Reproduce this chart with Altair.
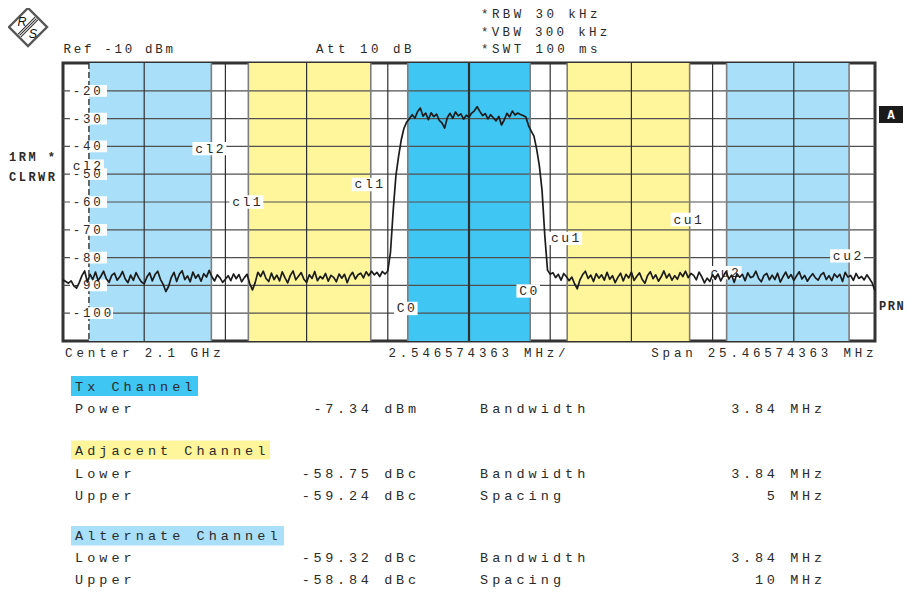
import math
import altair as alt
import pandas as pd

# ---------------- instrument settings ----------------
CENTER_GHZ = 2.1
SPAN_MHZ = 25.46574363
DIV_MHZ = 2.546574363
REF_DBM = -10
ATT_DB = 10
RBW_TXT = "30 kHz"
VBW_TXT = "300 kHz"
SWT_TXT = "100 ms"

# ---------------- channels ----------------
ch_names = ["cl2", "cl1", "C0", "cu1", "cu2"]
ch_offset_mhz = [-10, -5, 0, 5, 10]
ch_bw_mhz = [3.84, 3.84, 3.84, 3.84, 3.84]
ch_fill = ["#a9dff8", "#fff59b", "#40c6f2", "#fff59b", "#a9dff8"]
ch_label_left_db = [-47.1, -60.0, -98.3, -73.1, -85.4]
ch_label_right_db = [-40.8, -53.7, -92.0, -66.3, -79.4]

y_tick_db = [-20, -30, -40, -50, -60, -70, -80, -90, -100]

# ---------------- trace (301 sweep points, dBm) ----------------
trace_dbm = [
    # lower noise floor
    -88.0, -88.6, -89.2, -88.4, -90.2, -91.0, -89.0, -86.5, -84.8, -88.8,
    -86.0, -87.9, -85.2, -88.3, -86.7, -84.9, -87.6, -88.9, -86.4, -85.6,
    -88.1, -86.9, -85.0, -87.7, -89.0, -86.3, -88.2, -85.4, -87.3, -88.8,
    -89.4, -87.0, -85.5, -88.4, -86.1, -84.9, -87.8, -89.6, -92.2, -90.4,
    -87.2, -85.3, -88.6, -86.0, -84.7, -87.9, -86.6, -88.7, -85.2, -87.4,
    -86.1, -88.5, -85.8, -87.0, -84.6, -86.9, -88.4, -86.2, -87.3, -88.9,
    -87.8, -86.5, -88.3, -85.9, -87.6, -86.1, -88.7, -87.2, -86.0, -89.4,
    -91.6, -89.0, -85.3, -86.8, -84.9, -87.5, -88.6, -85.6, -87.9, -86.3,
    -88.4, -85.1, -87.2, -89.1, -86.4, -84.8, -88.0, -86.7, -85.4, -87.8,
    -88.9, -86.2, -87.5, -85.0, -88.3, -86.8, -87.6, -85.7, -88.5, -86.4,
    -87.1, -88.7, -85.9, -87.4, -86.0, -89.0, -86.6, -85.3, -87.7, -86.2,
    -85.6, -87.3, -85.1, -86.5, -84.9, -86.2, -85.3, -86.8, -85.0, -85.9,
    # rising edge
    -84.8, -78.0, -63.0, -50.5, -43.5, -37.5, -33.4, -31.2,
    # Tx channel
    -30.0, -28.6, -29.8, -27.5, -26.2, -29.1, -28.0, -30.4, -27.9, -29.3,
    -28.4, -30.6, -31.5, -33.4, -29.6, -28.1, -29.9, -27.6, -29.0, -28.3,
    -30.2, -28.8, -29.4, -28.0, -27.2, -25.7, -27.4, -28.9, -28.2, -30.1,
    -28.6, -29.7, -30.8, -29.2, -32.3, -30.5, -28.1, -29.4, -27.3, -28.7,
    -28.0, -28.5, -28.9, -29.4,
    # falling edge
    -32.5, -34.5, -36.3, -41.0, -47.0, -56.0, -72.0, -84.5, -86.0,
    # upper noise floor
    -85.4, -87.2, -86.0, -88.1, -85.7, -86.9, -88.3, -87.0, -89.4, -91.2,
    -88.0, -86.1, -84.9, -87.5, -86.3, -88.6, -85.8, -87.4, -86.2, -88.1,
    -85.3, -87.8, -86.5, -89.0, -87.1, -85.6, -88.4, -86.0, -87.3, -85.2,
    -88.2, -86.7, -85.5, -87.9, -89.2, -86.4, -85.1, -87.6, -86.2, -88.5,
    -86.9, -84.8, -87.3, -85.9, -88.1, -86.5, -87.8, -85.4, -86.8, -84.9,
    -87.2, -85.7, -86.4, -88.0, -85.2, -86.9, -89.1, -87.4, -88.6, -86.1,
    -87.8, -85.9, -88.4, -86.6, -85.0, -87.7, -86.3, -88.9, -85.8, -87.1,
    -86.0, -88.3, -85.5, -87.2, -86.8, -84.9, -87.5, -88.7, -86.4, -85.7,
    -88.0, -86.3, -87.9, -85.6, -88.8, -86.9, -85.2, -87.4, -86.1, -88.2,
    -86.6, -85.1, -87.7, -86.4, -88.5, -87.0, -85.8, -87.3, -88.1, -86.2,
    -85.4, -87.9, -86.5, -88.3, -85.9, -87.1, -86.0, -88.6, -85.3, -87.0,
    -86.4, -88.2, -85.7, -87.5, -86.8, -88.0, -86.2, -87.6, -89.2, -92.0,
]

# ---------------- results table ----------------
tx_power_dbm = -7.34
adj_lower_dbc = -58.75
adj_upper_dbc = -59.24
alt_lower_dbc = -59.32
alt_upper_dbc = -58.84
adj_spacing_mhz = 5
alt_spacing_mhz = 10

# ---------------- geometry ----------------
W, H = 812, 278
OX, OY = 63, 63          # page position of plot origin
XMIN, XMAX = -SPAN_MHZ / 2, SPAN_MHZ / 2
YMIN, YMAX = REF_DBM - 100, REF_DBM
xsc = alt.Scale(domain=[XMIN, XMAX], nice=False, zero=False)
ysc = alt.Scale(domain=[YMIN, YMAX], nice=False, zero=False)
FONT = "Liberation Mono"
INK = "#2a2a2a"


def mhz_at(px):
    return XMIN + px / W * SPAN_MHZ


def px_of(f):
    return (f - XMIN) / SPAN_MHZ * W


def Xq(field):
    return alt.X(field, type="quantitative", scale=xsc, axis=None)


def Yq(field):
    return alt.Y(field, type="quantitative", scale=ysc, axis=None)


# channel rectangles
chan = pd.DataFrame({
    "f0": [o - b / 2 for o, b in zip(ch_offset_mhz, ch_bw_mhz)],
    "f1": [o + b / 2 for o, b in zip(ch_offset_mhz, ch_bw_mhz)],
    "fill": ch_fill,
})
l_chan = alt.Chart(chan).mark_rect().encode(
    x=Xq("f0"), x2="f1", y=alt.value(0), y2=alt.value(H),
    color=alt.Color("fill:N", scale=None))

# grid
l_hgrid = alt.Chart(pd.DataFrame({"db": y_tick_db})).mark_rule(
    color="#505050", strokeWidth=1.2).encode(
    y=Yq("db"), x=alt.value(0), x2=alt.value(W))
vg = pd.DataFrame({"f": [XMIN + k * DIV_MHZ for k in range(1, 10)],
                   "w": [2.2 if k == 5 else 1.2 for k in range(1, 10)]})
l_vgrid = alt.Chart(vg).mark_rule(color="#303030").encode(
    x=Xq("f"), y=alt.value(0), y2=alt.value(H),
    strokeWidth=alt.StrokeWidth("w:Q", scale=None))

# channel edges
edges = []
for o, b in zip(ch_offset_mhz, ch_bw_mhz):
    edges += [o - b / 2, o + b / 2]
l_edges = alt.Chart(pd.DataFrame({"f": edges[1:]})).mark_rule(
    color="#7d7d7d", strokeWidth=1.6).encode(
    x=Xq("f"), y=alt.value(0), y2=alt.value(H))
l_edge0 = alt.Chart(pd.DataFrame({"f": edges[:1]})).mark_rule(
    color="#333333", strokeWidth=1.4, strokeDash=[6, 3]).encode(
    x=Xq("f"), y=alt.value(0), y2=alt.value(H))

# y tick labels (inside the plot, with white boxes)
tb, tt = [], []
for v in y_tick_db:
    s = str(v)
    tb.append({"f0": mhz_at(7), "f1": mhz_at(44 + 6 * (len(s) - 3)),
               "d0": v - 2.1, "d1": v + 2.1})
    for k, c in enumerate(s):
        tt.append({"ch": c, "f": mhz_at(13.5 + k * 10.3), "db": v})
l_tbox = alt.Chart(pd.DataFrame(tb)).mark_rect(color="white").encode(
    x=Xq("f0"), x2="f1", y=Yq("d0"), y2="d1")
l_ttxt = alt.Chart(pd.DataFrame(tt)).mark_text(
    font=FONT, fontSize=12.5, align="center", baseline="middle", color=INK).encode(
    x=Xq("f"), y=Yq("db"), text="ch:N")

# channel labels at both edges
lb, lt = [], []
LADV = 10.3
for name, o, b, dl, dr in zip(ch_names, ch_offset_mhz, ch_bw_mhz,
                              ch_label_left_db, ch_label_right_db):
    for edge, dbv in ((o - b / 2, dl), (o + b / 2, dr)):
        cx = px_of(edge) - 2
        n = len(name)
        lb.append({"f0": mhz_at(cx - n * LADV / 2 - 1.5), "f1": mhz_at(cx + n * LADV / 2 + 1.5),
                   "d0": dbv - 2.4, "d1": dbv + 2.4})
        for k, c in enumerate(name):
            lt.append({"ch": c, "f": mhz_at(cx + (k - (n - 1) / 2) * LADV), "db": dbv})
l_lbox = alt.Chart(pd.DataFrame(lb)).mark_rect(color="white").encode(
    x=Xq("f0"), x2="f1", y=Yq("d0"), y2="d1")
l_ltxt = alt.Chart(pd.DataFrame(lt)).mark_text(
    font=FONT, fontSize=13, align="center", baseline="middle", color=INK).encode(
    x=Xq("f"), y=Yq("db"), text="ch:N")

# trace
npts = len(trace_dbm)
tr = pd.DataFrame({"f": [XMIN + i * SPAN_MHZ / (npts - 1) for i in range(npts)],
                   "db": trace_dbm})
l_trace = alt.Chart(tr).mark_line(color="#1c1c1c", strokeWidth=1.7,
                                  strokeJoin="round").encode(x=Xq("f"), y=Yq("db"))

# ---------------- pixel-placed annotations (page coordinates) ----------------
def put(rows, text, x, y, adv, fs, align="left"):
    gw = 0.6 * fs
    n = len(text)
    c0 = x + gw / 2 if align == "left" else x - gw / 2 - (n - 1) * adv
    for k, c in enumerate(text):
        if c != " ":
            rows.append({"ch": c, "px": c0 + k * adv - OX, "py": y - OY, "fs": fs})


norm, bold, wbold = [], [], []
put(norm, f"Ref {REF_DBM} dBm", 63.5, 52.7, 10.2, 12.5)
put(norm, f"Att {ATT_DB} dB", 316, 52.7, 11.0, 12.5)
put(norm, f"*RBW {RBW_TXT}", 481, 18.0, 10.9, 12.5)
put(norm, f"*VBW {VBW_TXT}", 481, 35.5, 10.8, 12.5)
put(norm, f"*SWT {SWT_TXT}", 481, 53.3, 10.9, 12.5)
put(bold, "1RM *", 9, 160.5, 9.7, 12)
put(bold, "CLRWR", 9, 181, 9.7, 12)
put(bold, "PRN", 879, 309.5, 8.8, 12)
put(wbold, "A", 887.3, 119, 10, 12.5)
put(norm, f"Center {CENTER_GHZ} GHz", 65, 356.5, 11.4, 12.5)
put(norm, f"{DIV_MHZ} MHz/", 388.5, 356.5, 11.3, 12.5)
put(norm, f"Span {SPAN_MHZ} MHz", 873.5, 356.5, 11.3, 12.5, align="right")

TFS, TADV = 13.5, 12.15
c1, c2r, c3, c4r = 75, 416, 480, 822
put(norm, "Tx Channel", c1, 391, TADV, TFS)
put(norm, "Power", c1, 413, TADV, TFS)
put(norm, f"{tx_power_dbm:.2f} dBm", c2r, 413, 11.8, TFS, align="right")
put(norm, "Bandwidth", c3, 413, TADV, TFS)
put(norm, f"{ch_bw_mhz[2]:.2f} MHz", c4r, 413, 11.8, TFS, align="right")

put(norm, "Adjacent Channel", c1, 455, TADV, TFS)
put(norm, "Lower", c1, 477.5, TADV, TFS)
put(norm, f"{adj_lower_dbc:.2f} dBc", c2r, 477.5, 11.8, TFS, align="right")
put(norm, "Bandwidth", c3, 477.5, TADV, TFS)
put(norm, f"{ch_bw_mhz[1]:.2f} MHz", c4r, 477.5, 11.8, TFS, align="right")
put(norm, "Upper", c1, 499.5, TADV, TFS)
put(norm, f"{adj_upper_dbc:.2f} dBc", c2r, 499.5, 11.8, TFS, align="right")
put(norm, "Spacing", c3, 499.5, TADV, TFS)
put(norm, f"{adj_spacing_mhz} MHz", c4r, 499.5, 11.8, TFS, align="right")

put(norm, "Alternate Channel", c1, 540, TADV, TFS)
put(norm, "Lower", c1, 562, TADV, TFS)
put(norm, f"{alt_lower_dbc:.2f} dBc", c2r, 562, 11.8, TFS, align="right")
put(norm, "Bandwidth", c3, 562, TADV, TFS)
put(norm, f"{ch_bw_mhz[0]:.2f} MHz", c4r, 562, 11.8, TFS, align="right")
put(norm, "Upper", c1, 583.5, TADV, TFS)
put(norm, f"{alt_upper_dbc:.2f} dBc", c2r, 583.5, 11.8, TFS, align="right")
put(norm, "Spacing", c3, 583.5, TADV, TFS)
put(norm, f"{alt_spacing_mhz} MHz", c4r, 583.5, 11.8, TFS, align="right")

boxes = pd.DataFrame([
    {"x0": 71, "x1": 198, "y0": 376, "y1": 396, "c": ch_fill[2]},
    {"x0": 71, "x1": 270, "y0": 440.5, "y1": 459.5, "c": ch_fill[1]},
    {"x0": 71, "x1": 284, "y0": 526, "y1": 545.5, "c": ch_fill[0]},
    {"x0": 879, "x1": 903, "y0": 106, "y1": 123, "c": "#1a1a1a"},
])
for col in ("x0", "x1"):
    boxes[col] = boxes[col] - OX
for col in ("y0", "y1"):
    boxes[col] = boxes[col] - OY
l_boxes = alt.Chart(boxes).mark_rect().encode(
    x=alt.X("x0:Q", scale=None, axis=None), x2="x1:Q",
    y=alt.Y("y0:Q", scale=None, axis=None), y2="y1:Q",
    color=alt.Color("c:N", scale=None))


def pix_text(rows, color, weight):
    return alt.Chart(pd.DataFrame(rows)).mark_text(
        font=FONT, align="center", baseline="alphabetic", color=color,
        fontWeight=weight).encode(
        x=alt.X("px:Q", scale=None, axis=None),
        y=alt.Y("py:Q", scale=None, axis=None),
        size=alt.Size("fs:Q", scale=None),
        text="ch:N")


l_norm = pix_text(norm, INK, "normal")
l_bold = pix_text(bold, INK, "bold")
l_wbold = pix_text(wbold, "white", "bold")

# R&S logo
LCX, LCY, LR = 28, 27, 19
l_diamond = alt.Chart(pd.DataFrame({"px": [LCX - OX], "py": [LCY - OY]})).mark_point(
    shape="diamond", filled=False, color="#111111", strokeWidth=2.4,
    size=(2 * LR) ** 2).encode(
    x=alt.X("px:Q", scale=None, axis=None), y=alt.Y("py:Q", scale=None, axis=None))
stripes = []
half = LR * math.sqrt(2) / 2 - 1.5
for d in (-2.0, 0.0, 2.0):
    ux, uy = d / math.sqrt(2), d / math.sqrt(2)
    vx, vy = half / math.sqrt(2), -half / math.sqrt(2)
    stripes.append({"x0": LCX + ux + vx - OX, "y0": LCY + uy + vy - OY,
                    "x1": LCX + ux - vx - OX, "y1": LCY + uy - vy - OY})
l_stripes = alt.Chart(pd.DataFrame(stripes)).mark_rule(color="#333333", strokeWidth=1.1).encode(
    x=alt.X("x0:Q", scale=None, axis=None), y=alt.Y("y0:Q", scale=None, axis=None),
    x2="x1:Q", y2="y1:Q")
l_rs = alt.Chart(pd.DataFrame({"ch": ["R", "S"],
                               "px": [LCX - 6 - OX, LCX + 5 - OX],
                               "py": [LCY - 5.5 - OY, LCY + 6.5 - OY]})).mark_text(
    font="Liberation Sans", fontSize=12.5, fontStyle="italic", color="#111111",
    align="center", baseline="middle").encode(
    x=alt.X("px:Q", scale=None, axis=None), y=alt.Y("py:Q", scale=None, axis=None),
    text="ch:N")

chart = alt.layer(
    l_chan, l_hgrid, l_vgrid, l_edges, l_edge0,
    l_lbox, l_tbox, l_ttxt, l_ltxt, l_trace,
    l_boxes, l_norm, l_bold, l_wbold,
    l_diamond, l_stripes, l_rs,
).properties(
    width=W, height=H,
    padding={"left": 55, "top": 55, "right": 29, "bottom": 247},
    autosize=alt.AutoSizeParams(type="none"),
    background="white",
).configure_view(stroke="#333333", strokeWidth=3)

chart.save("out.html", embed_options={"renderer": "svg", "actions": False})
